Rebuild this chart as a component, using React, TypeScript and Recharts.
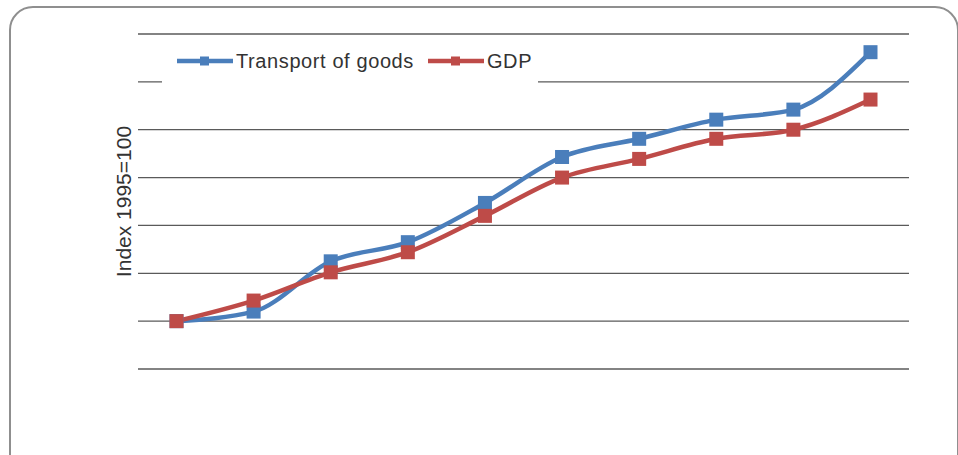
import { CartesianGrid, Legend, Line, LineChart, XAxis, YAxis } from "recharts"

const years = ["1995", "1996", "1997", "1998", "1999", "2000", "2001", "2002", "2003", "2004"]
const transport = [100, 102.0, 112.5, 116.5, 124.7, 134.3, 138.1, 142.1, 144.2, 156.2]
const gdp = [100, 104.3, 110.2, 114.4, 122.0, 130.0, 133.9, 138.1, 140.0, 146.3]
const yTicks = [90, 100, 110, 120, 130, 140, 150, 160]

const data = years.map((year, i) => ({ year, transport: transport[i], gdp: gdp[i] }))

const series = [
  { key: "transport", name: "Transport of goods", color: "#4a7ebb" },
  { key: "gdp", name: "GDP", color: "#be4b48" },
]

const font = "'Liberation Sans', Arial, sans-serif"

const squareDot = (color: string, size: number) => (props: any) => {
  const { cx, cy, index } = props
  if (cx == null || cy == null) return <g key={index} />
  return <rect key={index} x={cx - size / 2} y={cy - size / 2} width={size} height={size} fill={color} />
}

function LegendBox() {
  return (
    <div
      style={{
        display: "flex",
        alignItems: "center",
        height: "100%",
        paddingLeft: 15,
        fontFamily: font,
        fontSize: 20,
        letterSpacing: 0.6,
        color: "#333",
      }}
    >
      {series.map((s, i) => (
        <div key={s.key} style={{ display: "flex", alignItems: "center", marginLeft: i === 0 ? 0 : 14 }}>
          <svg width={56} height={14}>
            <line x1={0} y1={7} x2={56} y2={7} stroke={s.color} strokeWidth={4.5} strokeLinecap="round" />
            <rect x={23} y={2.5} width={9} height={9} fill={s.color} />
          </svg>
          <span style={{ marginLeft: 3, whiteSpace: "nowrap" }}>{s.name}</span>
        </div>
      ))}
    </div>
  )
}

export default function App() {
  return (
    <div
      style={{
        position: "absolute",
        left: 0,
        top: 0,
        width: 958,
        height: 455,
        overflow: "hidden",
        background: "#fff",
      }}
    >
      <div
        style={{
          position: "absolute",
          left: 9,
          top: 6,
          width: 946,
          height: 470,
          border: "2px solid #8f8f8f",
          borderRadius: 24,
        }}
      />
      <div style={{ position: "absolute", left: 0, top: 0 }}>
        <LineChart width={958} height={455} data={data} margin={{ top: 34, right: 49, bottom: 86, left: 0 }}>
          <CartesianGrid vertical={false} stroke="#5a5a5a" strokeWidth={1.3} />
          <XAxis dataKey="year" hide padding={{ left: 38.5, right: 38.5 }} />
          <YAxis
            width={138}
            domain={[90, 160]}
            ticks={yTicks}
            interval={0}
            tickFormatter={() => ""}
            tickLine={false}
            axisLine={false}
            label={{
              value: "Index 1995=100",
              angle: -90,
              position: "center",
              dx: 55,
              style: { fontFamily: font, fontSize: 21, fill: "#333" },
            }}
          />
          <Legend
            layout="vertical"
            align="center"
            verticalAlign="middle"
            content={() => <LegendBox />}
            wrapperStyle={{ position: "absolute", left: 162, top: 38, width: 376, height: 46, background: "#fff" }}
          />
          {series.map((s) => (
            <Line
              key={s.key}
              type="monotone"
              dataKey={s.key}
              name={s.name}
              stroke={s.color}
              strokeWidth={4.5}
              dot={squareDot(s.color, 14)}
              activeDot={false}
              isAnimationActive={false}
            />
          ))}
        </LineChart>
      </div>
    </div>
  )
}
